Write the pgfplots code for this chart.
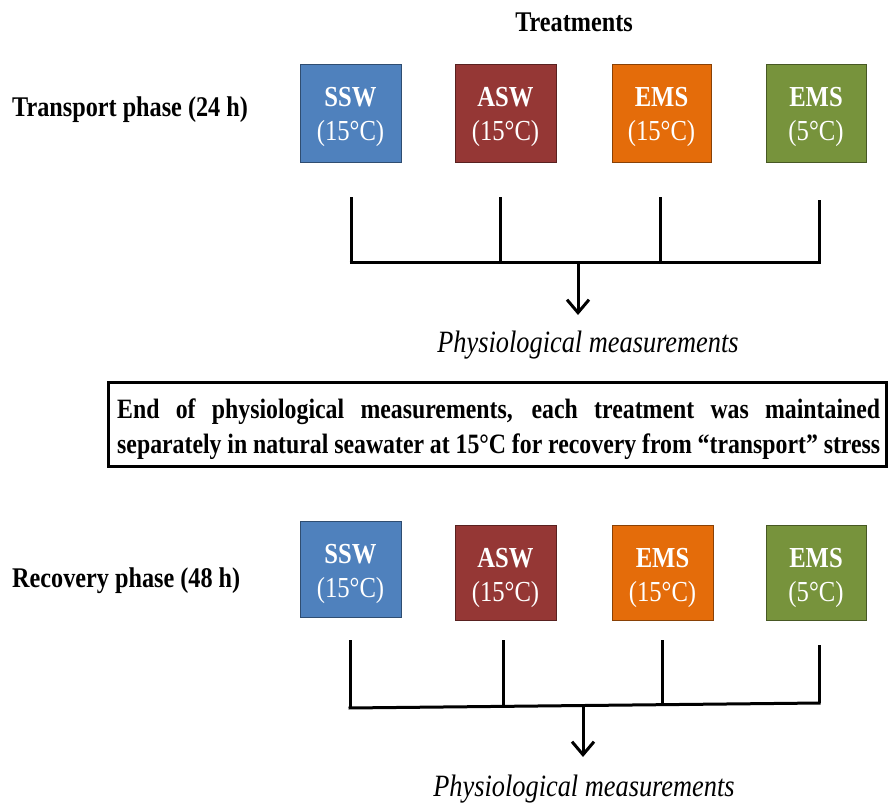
\documentclass[border=0pt]{standalone}
\usepackage{fontspec}
\setmainfont{Liberation Serif}[FakeStretch=0.85]
\usepackage{pgfplots}
\pgfplotsset{compat=1.18}
\usetikzlibrary{arrows.meta}
\definecolor{cSSW}{HTML}{4F81BD}
\definecolor{cASW}{HTML}{953735}
\definecolor{cEMS}{HTML}{E46C0A}
\definecolor{cEMSfive}{HTML}{77933C}
\newcommand{\lab}{\fontsize{28.5}{34}\selectfont\bfseries}
\newcommand{\boxfs}{\fontsize{29}{34}\selectfont}
\newcommand{\itfs}{\fontsize{31}{36}\selectfont\itshape}
\newcommand{\midfs}{\fontsize{28}{34}\selectfont\bfseries}
\begin{document}
\begin{tikzpicture}
\begin{axis}[width=889pt,height=800pt,scale only axis,
  xmin=0,xmax=889,ymin=0,ymax=800,y dir=reverse,hide axis,clip=false]
\addplot[draw=none] coordinates {(0,0) (889,800)};
% ---- transport boxes
\addplot[fill=cSSW,draw=cSSW!60!black,line width=1pt] coordinates {(300,65) (401,65) (401,163) (300,163)} -- cycle;
\addplot[fill=cASW,draw=cASW!60!black,line width=1pt] coordinates {(455,65) (556,65) (556,163) (455,163)} -- cycle;
\addplot[fill=cEMS,draw=cEMS!60!black,line width=1pt] coordinates {(612,65) (711,65) (711,163) (612,163)} -- cycle;
\addplot[fill=cEMSfive,draw=cEMSfive!60!black,line width=1pt] coordinates {(766,65) (866,65) (866,163) (766,163)} -- cycle;
% ---- recovery boxes
\addplot[fill=cSSW,draw=cSSW!60!black,line width=1pt] coordinates {(300,521) (401,521) (401,617) (300,617)} -- cycle;
\addplot[fill=cASW,draw=cASW!60!black,line width=1pt] coordinates {(455,525) (556,525) (556,620) (455,620)} -- cycle;
\addplot[fill=cEMS,draw=cEMS!60!black,line width=1pt] coordinates {(612,525) (713,525) (713,620) (612,620)} -- cycle;
\addplot[fill=cEMSfive,draw=cEMSfive!60!black,line width=1pt] coordinates {(766,525) (866,525) (866,620) (766,620)} -- cycle;
% ---- transport connectors
\addplot[black,line width=3pt] coordinates {(351,197) (351,262)};
\addplot[black,line width=3pt] coordinates {(500,197) (500,262)};
\addplot[black,line width=3pt] coordinates {(660,197) (660,262)};
\addplot[black,line width=3pt] coordinates {(819,200) (819,262)};
\addplot[black,line width=3pt] coordinates {(349.5,262) (820.5,262)};
\addplot[black,line width=3pt,-{Straight Barb[length=13pt,width=22pt,line width=3pt]}] coordinates {(578,262) (578,315)};
% ---- recovery connectors
\addplot[black,line width=3pt] coordinates {(350,640) (350,708)};
\addplot[black,line width=3pt] coordinates {(503,640) (503,707)};
\addplot[black,line width=3pt] coordinates {(662,640) (662,705)};
\addplot[black,line width=3pt] coordinates {(819,645) (819,703)};
\addplot[black,line width=3pt] coordinates {(348.5,708) (820.5,703)};
\addplot[black,line width=3pt,-{Straight Barb[length=13pt,width=22pt,line width=3pt]}] coordinates {(583,706) (583,757)};
% ---- middle box
\addplot[draw=black,line width=3pt] coordinates {(108,382) (886,382) (886,466) (108,466)} -- cycle;
% ---- texts
\node[font=\lab,anchor=base] at (axis cs:574,32) {Treatments};
\node[font=\lab,anchor=base west,inner sep=0pt] at (axis cs:12,117) {Transport phase (24 h)};
\node[font=\lab,anchor=base west,inner sep=0pt] at (axis cs:12,587) {Recovery phase (48 h)};
\node[font=\itfs,anchor=base] at (axis cs:588,352) {Physiological measurements};
\node[font=\itfs,anchor=base] at (axis cs:584,796) {Physiological measurements};
% box labels transport
\node[font=\boxfs\bfseries,text=white,anchor=base] at (axis cs:350.5,107) {SSW};
\node[font=\boxfs,text=white,anchor=base] at (axis cs:350.5,141) {(15°C)};
\node[font=\boxfs\bfseries,text=white,anchor=base] at (axis cs:505.5,107) {ASW};
\node[font=\boxfs,text=white,anchor=base] at (axis cs:505.5,141) {(15°C)};
\node[font=\boxfs\bfseries,text=white,anchor=base] at (axis cs:661.5,107) {EMS};
\node[font=\boxfs,text=white,anchor=base] at (axis cs:661.5,141) {(15°C)};
\node[font=\boxfs\bfseries,text=white,anchor=base] at (axis cs:816,107) {EMS};
\node[font=\boxfs,text=white,anchor=base] at (axis cs:816,141) {(5°C)};
% box labels recovery
\node[font=\boxfs\bfseries,text=white,anchor=base] at (axis cs:350.5,563) {SSW};
\node[font=\boxfs,text=white,anchor=base] at (axis cs:350.5,597) {(15°C)};
\node[font=\boxfs\bfseries,text=white,anchor=base] at (axis cs:505.5,567) {ASW};
\node[font=\boxfs,text=white,anchor=base] at (axis cs:505.5,601) {(15°C)};
\node[font=\boxfs\bfseries,text=white,anchor=base] at (axis cs:662.5,567) {EMS};
\node[font=\boxfs,text=white,anchor=base] at (axis cs:662.5,601) {(15°C)};
\node[font=\boxfs\bfseries,text=white,anchor=base] at (axis cs:816,567) {EMS};
\node[font=\boxfs,text=white,anchor=base] at (axis cs:816,601) {(5°C)};
% middle text
\node[font=\midfs,anchor=base west,inner sep=0pt] at (axis cs:117,418) {\makebox[763pt][s]{End of physiological measurements, each treatment was maintained}};
\node[font=\midfs,anchor=base west,inner sep=0pt] at (axis cs:117,453) {\makebox[763pt][s]{separately in natural seawater at 15°C for recovery from “transport” stress}};
\end{axis}
\end{tikzpicture}
\end{document}
